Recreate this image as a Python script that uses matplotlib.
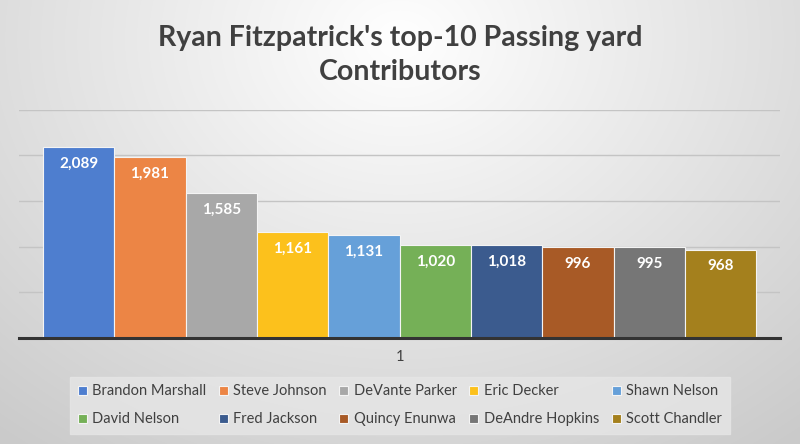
import numpy as np
import matplotlib
matplotlib.use("Agg")
import matplotlib.pyplot as plt

players = ["Brandon Marshall", "Steve Johnson", "DeVante Parker", "Eric Decker",
           "Shawn Nelson", "David Nelson", "Fred Jackson", "Quincy Enunwa",
           "DeAndre Hopkins", "Scott Chandler"]
yards = [2089, 1981, 1585, 1161, 1131, 1020, 1018, 996, 995, 968]
colors = ["#4E7ECF", "#EC8545", "#A8A8A8", "#FCC11C", "#66A0D9",
          "#75B057", "#3B5B8E", "#A85A26", "#767676", "#A4801D"]
category = ["1"]
title = "Ryan Fitzpatrick's top-10 Passing yard\nContributors"

fig = plt.figure(figsize=(8, 4.44), dpi=100)

# background gradient
bg = fig.add_axes([0, 0, 1, 1], zorder=-10)
yy, xx = np.mgrid[0:444, 0:800]
d = np.sqrt(((xx - 400) / 520.0) ** 2 + ((yy - 40) / 420.0) ** 2)
val = 1.0 - 0.19 * np.clip(d, 0, 1.2) / 1.2 ** 0.6
val = np.clip(val, 0, 1)
img = np.dstack([val, val, val])
bg.imshow(img, aspect="auto", extent=[0, 1, 0, 1], origin="upper")
bg.axis("off")

ax = fig.add_axes([0.024, 0.239, 0.951, 0.514])
ax.set_facecolor("none")
n = len(players)
group = 0.938
w = group / n
bars = []
for i, (p, v, c) in enumerate(zip(players, yards, colors)):
    x = 0 + (i - (n - 1) / 2) * w
    b = ax.bar(x, v, width=w, color=c, edgecolor="#f4f4f4", linewidth=0.8,
               label=p, zorder=3)
    bars.append(b)
    ax.text(x, v - 185, f"{v:,}", ha="center", va="center", color="white",
            fontsize=11, fontweight="bold", family="Lato", zorder=4)

ax.set_xlim(-0.5, 0.5)
ax.set_ylim(0, 2500)
ax.set_yticks([500, 1000, 1500, 2000, 2500])
ax.yaxis.grid(True, color="#c4c4c4", linewidth=1.0, zorder=0)
ax.tick_params(axis="y", length=0, labelleft=False)
ax.set_xticks([0])
ax.set_xticklabels(category, fontsize=10.5, color="#404040", family="Lato")
ax.tick_params(axis="x", length=0, pad=9)
for s in ["top", "right", "left"]:
    ax.spines[s].set_visible(False)
ax.spines["bottom"].set_color("#333333")
ax.spines["bottom"].set_linewidth(2.2)
ax.spines["bottom"].set_zorder(5)

fig.text(0.5, 0.876, title, ha="center", va="center", fontsize=20.5,
         fontweight="bold", color="#404040", family="Lato", linespacing=1.4)

# row-wise legend ordering for 2 rows x 5 columns
order = [0, 5, 1, 6, 2, 7, 3, 8, 4, 9]
handles = [bars[k] for k in order]
labels = [players[k] for k in order]
leg = fig.legend(handles, labels, loc="center", bbox_to_anchor=(0.5, 0.087),
                 ncol=5, frameon=True,
                 prop={"family": "Lato", "size": 10.5},
                 handlelength=0.6, handleheight=0.6, handletextpad=0.4,
                 columnspacing=0.85, labelspacing=0.95, borderpad=0.5)
leg.get_frame().set_facecolor("#e6e6e6")
leg.get_frame().set_edgecolor("#e6e6e6")
leg.get_frame().set_alpha(0.8)
leg.get_frame().set_boxstyle("square", pad=0)
for t in leg.get_texts():
    t.set_color("#404040")

fig.savefig("out.png", dpi=100)
